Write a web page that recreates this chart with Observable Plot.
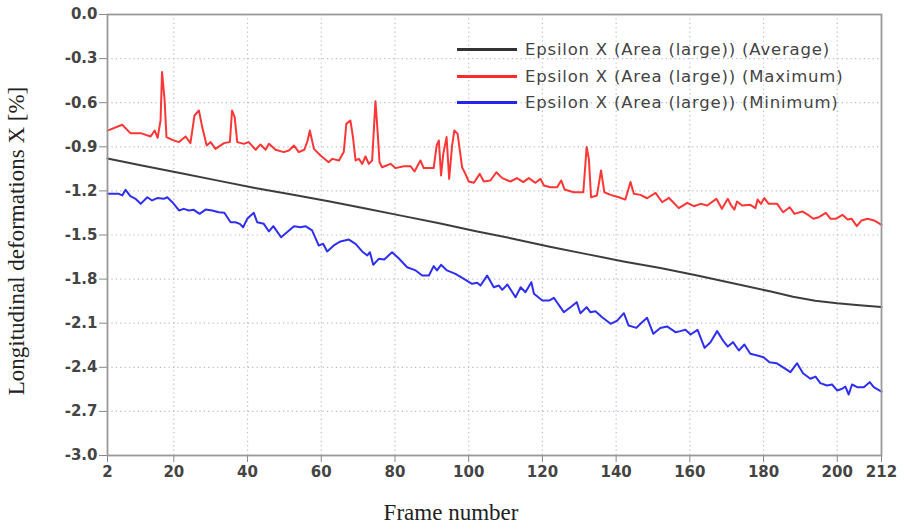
<!DOCTYPE html>
<html><head><meta charset="utf-8">
<script src="https://cdn.jsdelivr.net/npm/d3@7"></script>
<script src="https://cdn.jsdelivr.net/npm/@observablehq/plot@0.6"></script>
<style>
body{margin:0;background:#fff;}
#wrap{position:relative;width:904px;height:527px;overflow:hidden;background:#fff;}
#wrap svg{position:absolute;left:0;top:0;}
.ytitle{position:absolute;left:17px;top:241px;transform:translate(-50%,-50%) rotate(-90deg);white-space:nowrap;font-family:"Liberation Serif","DejaVu Serif",serif;font-size:23px;color:#222;}
.xtitle{position:absolute;left:451px;top:513px;transform:translate(-50%,-50%);white-space:nowrap;font-family:"Liberation Serif","DejaVu Serif",serif;font-size:23px;color:#222;}
.leg{position:absolute;left:457px;height:20px;display:flex;align-items:center;white-space:nowrap;font-family:"DejaVu Sans",sans-serif;font-size:16.5px;letter-spacing:0.8px;color:#444;}
.leg .sw{width:60px;height:3px;margin-right:8px;}
</style></head><body><div id="wrap"></div><script>
// ---- data ----
const seriesNames = ["Epsilon X (Area (large)) (Average)", "Epsilon X (Area (large)) (Maximum)", "Epsilon X (Area (large)) (Minimum)"];
const seriesColors = ["#333333", "#ff2b2b", "#2424f0"];

const xTicks = [2, 20, 40, 60, 80, 100, 120, 140, 160, 180, 200, 212];
const yTicks = [0, -0.3, -0.6, -0.9, -1.2, -1.5, -1.8, -2.1, -2.4, -2.7, -3.0];

const avgFrames = [2, 12, 22, 32, 42, 52, 62, 72, 82, 92, 102, 112, 122, 132, 142, 152, 162, 172, 182, 188, 194, 200, 206, 212];
const avgValues = [-0.98, -1.03, -1.08, -1.13, -1.18, -1.225, -1.27, -1.32, -1.37, -1.42, -1.475, -1.525, -1.58, -1.63, -1.68, -1.725, -1.775, -1.83, -1.885, -1.92, -1.948, -1.965, -1.978, -1.99];

const maxFrames = [2, 6, 8.2, 11, 13.7, 14.8, 15.6, 16.4, 16.8, 17.5, 18, 19.6, 21.4, 23.2, 24.5, 25.6, 26.8, 27.7, 28.9, 30, 31.3, 33.6, 35.2, 35.8, 36.5, 37.2, 39, 40.3, 42.2, 43.5, 44.9, 45.8, 47.6, 49.8, 51.2, 52.6, 53.9, 55.4, 56.3, 56.9, 58, 59.8, 62, 63, 64.8, 66.1, 66.8, 67.9, 68.6, 69.3, 70.2, 71.1, 72, 72.9, 73.8, 74.7, 75.3, 75.8, 76.5, 78.8, 80.1, 82.4, 84.2, 85.3, 86.9, 87.8, 90.5, 91.3, 91.9, 92.5, 93.1, 94, 94.7, 95.5, 96.1, 97, 98.2, 99.1, 100, 101.4, 103, 104.1, 105.9, 107.5, 109.1, 111.3, 113.1, 114.8, 116.3, 118.1, 119.5, 120.4, 122.2, 124, 125.1, 126, 128.5, 131.1, 132, 132.6, 133.2, 134.8, 135.9, 136.8, 138.5, 140.7, 142.5, 143.9, 144.8, 146.6, 148.4, 150.7, 152.5, 154.3, 157, 159.3, 161.1, 162.9, 164.7, 167.2, 168.7, 170.3, 171.2, 172.1, 172.8, 174.2, 176.4, 177.8, 178.4, 179.3, 180.2, 181.4, 183.7, 185.3, 187.1, 188.4, 190.5, 192.3, 193.5, 195, 196.9, 198.2, 199.6, 201.4, 202.8, 203.9, 205.3, 206.6, 208.2, 210, 212];
const maxValues = [-0.79, -0.75, -0.807, -0.807, -0.83, -0.789, -0.839, -0.72, -0.392, -0.585, -0.834, -0.853, -0.868, -0.83, -0.875, -0.687, -0.653, -0.766, -0.891, -0.868, -0.914, -0.875, -0.868, -0.653, -0.698, -0.868, -0.88, -0.868, -0.92, -0.884, -0.92, -0.88, -0.92, -0.936, -0.925, -0.891, -0.936, -0.92, -0.857, -0.789, -0.914, -0.959, -1.005, -0.982, -0.993, -0.936, -0.744, -0.721, -0.834, -0.993, -0.982, -1.016, -0.966, -1.016, -0.993, -0.59, -0.8, -1.005, -1.039, -1.016, -1.045, -1.032, -1.032, -1.068, -0.993, -1.045, -1.045, -0.891, -0.857, -1.095, -0.948, -0.834, -1.118, -0.891, -0.789, -0.812, -1.039, -1.084, -1.136, -1.145, -1.084, -1.136, -1.129, -1.073, -1.113, -1.136, -1.113, -1.14, -1.113, -1.145, -1.118, -1.163, -1.175, -1.175, -1.129, -1.19, -1.209, -1.209, -0.902, -0.982, -1.243, -1.231, -1.061, -1.209, -1.227, -1.243, -1.259, -1.14, -1.22, -1.227, -1.25, -1.213, -1.277, -1.247, -1.317, -1.281, -1.304, -1.288, -1.299, -1.254, -1.322, -1.254, -1.299, -1.327, -1.272, -1.299, -1.295, -1.317, -1.259, -1.288, -1.249, -1.288, -1.288, -1.345, -1.311, -1.356, -1.34, -1.367, -1.39, -1.379, -1.349, -1.39, -1.39, -1.363, -1.395, -1.39, -1.44, -1.401, -1.39, -1.401, -1.431];

const minFrames = [2, 5.1, 6, 6.9, 8.2, 9.6, 11, 12.8, 14.1, 15.5, 17.3, 18.2, 19.6, 21.4, 22.7, 24.1, 25.4, 27, 28.6, 30.4, 32.2, 33.7, 35.4, 36.7, 37.9, 38.8, 39.9, 41.7, 42.6, 44.4, 45.8, 47, 47.8, 49.1, 50.7, 52.6, 54.4, 55.7, 57.5, 59.3, 60.5, 61.6, 63.4, 65.2, 67.5, 69.3, 71.1, 72.5, 73.2, 74.1, 75.6, 77.1, 79.2, 81, 83.3, 85.6, 87.4, 89.2, 90.5, 91.4, 92.5, 94.1, 96.4, 98.7, 100.9, 102.3, 103.2, 105, 106.8, 108.2, 109.1, 110.5, 112.7, 114.1, 115.4, 117, 117.7, 120, 121.8, 123.1, 125.8, 127.6, 129.3, 130.3, 132, 133, 134.4, 136.2, 138.5, 140.3, 142.1, 143.4, 145.5, 146.6, 148.4, 150.1, 152, 153.8, 156.1, 157.4, 158.8, 160.2, 162.1, 164, 165.6, 167.4, 169, 170.3, 171.7, 173.3, 174.8, 176.4, 178.3, 180, 181.6, 183.5, 185, 187.3, 189.1, 190.7, 192.7, 194.1, 195.4, 197.2, 198.6, 200, 201.3, 202.2, 203.1, 204, 205.4, 207.2, 208.8, 209.9, 212];
const minValues = [-1.22, -1.22, -1.231, -1.193, -1.236, -1.254, -1.288, -1.243, -1.265, -1.249, -1.254, -1.243, -1.277, -1.333, -1.322, -1.333, -1.329, -1.356, -1.327, -1.333, -1.345, -1.349, -1.413, -1.413, -1.424, -1.447, -1.39, -1.349, -1.413, -1.424, -1.476, -1.44, -1.469, -1.515, -1.481, -1.44, -1.447, -1.44, -1.469, -1.571, -1.56, -1.612, -1.571, -1.544, -1.531, -1.56, -1.612, -1.639, -1.617, -1.703, -1.662, -1.667, -1.617, -1.658, -1.719, -1.741, -1.776, -1.776, -1.712, -1.741, -1.703, -1.741, -1.764, -1.798, -1.832, -1.825, -1.844, -1.776, -1.855, -1.844, -1.873, -1.837, -1.923, -1.855, -1.889, -1.821, -1.9, -1.946, -1.946, -1.927, -2.025, -1.991, -1.957, -2.032, -1.991, -2.025, -2.018, -2.059, -2.104, -2.082, -2.032, -2.116, -2.132, -2.104, -2.063, -2.172, -2.132, -2.122, -2.161, -2.154, -2.145, -2.177, -2.145, -2.268, -2.229, -2.154, -2.218, -2.259, -2.229, -2.286, -2.245, -2.308, -2.32, -2.331, -2.365, -2.372, -2.395, -2.433, -2.372, -2.44, -2.478, -2.463, -2.508, -2.524, -2.517, -2.558, -2.546, -2.531, -2.585, -2.517, -2.535, -2.535, -2.501, -2.535, -2.565];

// ---- build table ----
const toRows = (fr, vals, s) => fr.map((f, i) => ({frame: f, value: vals[i], series: s}));
const rows = [
  ...toRows(maxFrames, maxValues, seriesNames[1]),
  ...toRows(minFrames, minValues, seriesNames[2]),
  ...toRows(avgFrames, avgValues, seriesNames[0])
];

const chart = Plot.plot({
  width: 904,
  height: 527,
  marginLeft: 107,
  marginRight: 23,
  marginTop: 14,
  marginBottom: 72,
  style: {fontFamily: "DejaVu Sans, sans-serif", fontSize: "15px", background: "transparent", color: "#555"},
  x: {domain: [2, 212], axis: null},
  y: {domain: [-3, 0], axis: null},
  color: {domain: seriesNames, range: seriesColors},
  marks: [
    Plot.gridX(xTicks.slice(1, -1), {stroke: "#b9bccb", strokeOpacity: 1, strokeDasharray: "1.2,3.2", strokeWidth: 1.2}),
    Plot.gridY(yTicks.slice(1, -1), {stroke: "#b9bccb", strokeOpacity: 1, strokeDasharray: "1.2,3.2", strokeWidth: 1.2}),
    Plot.axisX(xTicks, {tickSize: 7, tickPadding: 4, stroke: "#888", fill: "#444", fontWeight: "bold", label: null, tickFormat: d => String(d)}),
    Plot.axisY(yTicks, {tickSize: 8, tickPadding: 2, stroke: "#888", fill: "#444", fontWeight: "bold", label: null, tickFormat: d => d.toFixed(1)}),
    Plot.line(rows, {x: "frame", y: "value", z: "series", stroke: "series", strokeWidth: 2, strokeOpacity: 0.95, curve: "linear"}),
    Plot.frame({stroke: "#999", strokeWidth: 1.8})
  ]
});

const wrap = document.getElementById("wrap");
wrap.appendChild(chart);

// axis titles
const yt = document.createElement("div");
yt.className = "ytitle";
yt.textContent = "Longitudinal deformations X [%]";
wrap.appendChild(yt);
const xt = document.createElement("div");
xt.className = "xtitle";
xt.textContent = "Frame number";
wrap.appendChild(xt);

// legend
const legY = [49, 76, 102];
seriesNames.forEach((name, i) => {
  const d = document.createElement("div");
  d.className = "leg";
  d.style.top = (legY[i] - 10) + "px";
  const sw = document.createElement("div");
  sw.className = "sw";
  sw.style.background = seriesColors[i];
  const t = document.createElement("span");
  t.textContent = name;
  d.appendChild(sw);
  d.appendChild(t);
  wrap.appendChild(d);
});
</script></body></html>
